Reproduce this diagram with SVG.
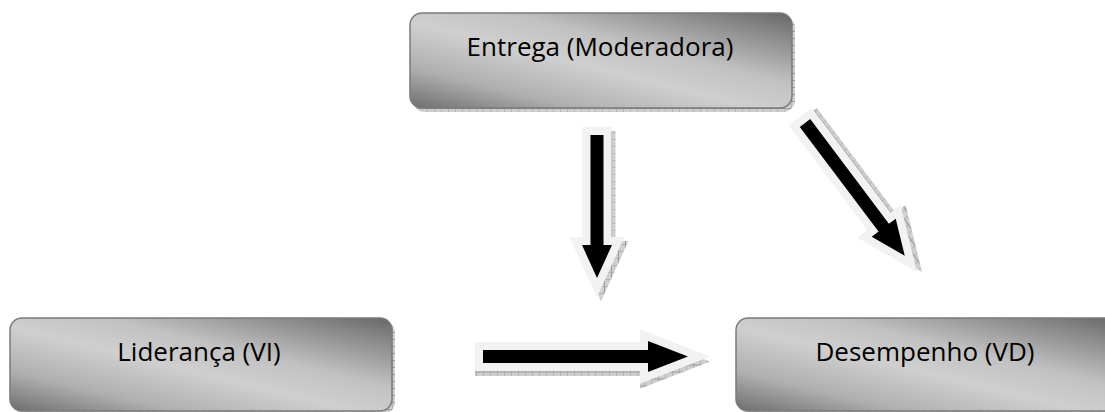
<svg xmlns="http://www.w3.org/2000/svg" width="1105" height="412" viewBox="0 0 1105 412">
  <defs>
    <linearGradient id="boxGrad" x1="0" y1="1" x2="1" y2="0">
      <stop offset="0" stop-color="#6e6e6e"/>
      <stop offset="0.22" stop-color="#b0b0b0"/>
      <stop offset="0.45" stop-color="#cfcfcf"/>
      <stop offset="0.62" stop-color="#c2c2c2"/>
      <stop offset="0.88" stop-color="#858585"/>
      <stop offset="1" stop-color="#666666"/>
    </linearGradient>
    <pattern id="hatch" width="7" height="7" patternUnits="userSpaceOnUse">
      <rect width="7" height="7" fill="#cfcfcf"/>
      <path d="M0 0V7M0 3.5H7" stroke="#9a9a9a" stroke-width="1"/>
    </pattern>
  </defs>
  <style>
    .shadow { fill: url(#hatch); }
    .box { fill: url(#boxGrad); stroke: #7a7a7a; stroke-width: 1.5; }
    .label { font-family: "Open Sans", "Liberation Sans", sans-serif; font-size: 26px; fill: #000; text-anchor: middle; }
    .halo { fill: #f2f2f2; stroke: #f2f2f2; stroke-width: 16; stroke-linejoin: miter; stroke-miterlimit: 10; }
    .ashadow { fill: url(#hatch); stroke: url(#hatch); stroke-width: 16; stroke-linejoin: miter; stroke-miterlimit: 10; }
    .body { fill: #000; }
  </style>

  <g id="node-entrega">
    <rect class="shadow" x="413" y="16" width="382" height="96" rx="12"/>
    <rect class="box" x="410" y="13" width="382" height="95" rx="12"/>
    <text class="label" x="600" y="56">Entrega (Moderadora)</text>
  </g>

  <g id="node-lideranca">
    <rect class="shadow" x="13" y="321" width="382" height="93" rx="12"/>
    <rect class="box" x="10" y="318" width="382" height="93" rx="12"/>
    <text class="label" x="199" y="361">Liderança (VI)</text>
  </g>

  <g id="node-desempenho">
    <rect class="shadow" x="739" y="321" width="385" height="93" rx="12"/>
    <rect class="box" x="736" y="318" width="385" height="93" rx="12"/>
    <text class="label" x="925" y="361">Desempenho (VD)</text>
  </g>

  <g id="connectors">
    <g transform="translate(597,135) rotate(90)">
      <polygon class="ashadow" transform="translate(4,-4)" points="0,-6.5 110,-6.5 110,-15 143,0 110,15 110,6.5 0,6.5"/>
      <polygon class="halo" points="0,-6.5 110,-6.5 110,-15 143,0 110,15 110,6.5 0,6.5"/>
      <polygon class="body" points="0,-6.5 110,-6.5 110,-15 143,0 110,15 110,6.5 0,6.5"/>
    </g>
    <g transform="translate(805,123) rotate(53.06)">
      <polygon class="ashadow" transform="translate(3,-4)" points="0,-6.5 131,-6.5 131,-15 166,0 131,15 131,6.5 0,6.5"/>
      <polygon class="halo" points="0,-6.5 131,-6.5 131,-15 166,0 131,15 131,6.5 0,6.5"/>
      <polygon class="body" points="0,-6.5 131,-6.5 131,-15 166,0 131,15 131,6.5 0,6.5"/>
    </g>
    <g transform="translate(483,356.5)">
      <polygon class="ashadow" transform="translate(0,5)" points="0,-6.5 165,-6.5 165,-15.5 205,0 165,15.5 165,6.5 0,6.5"/>
      <polygon class="halo" points="0,-6.5 165,-6.5 165,-15.5 205,0 165,15.5 165,6.5 0,6.5"/>
      <polygon class="body" points="0,-6.5 165,-6.5 165,-15.5 205,0 165,15.5 165,6.5 0,6.5"/>
    </g>
  </g>
</svg>
